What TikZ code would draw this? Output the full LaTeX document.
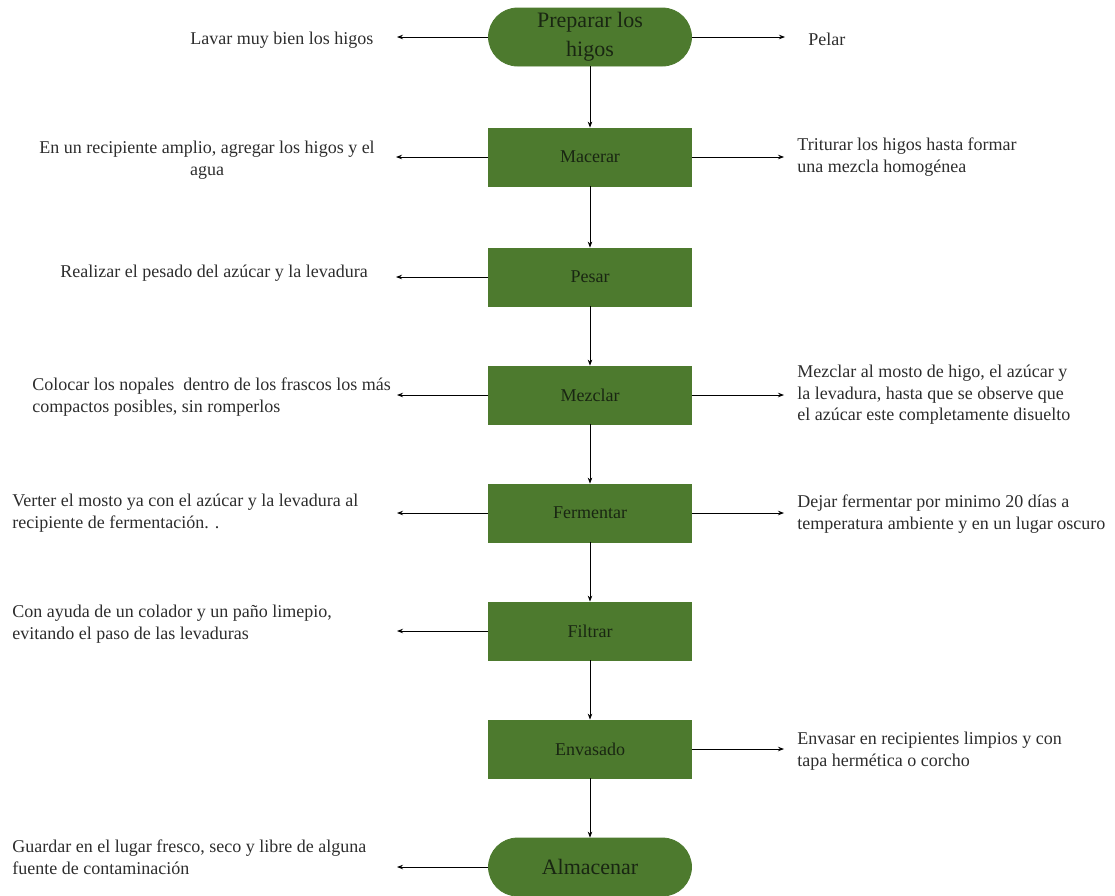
\documentclass[tikz,border=0pt]{standalone}
\usepackage{fontspec}
\setmainfont{Liberation Serif}
\newfontfamily\tnr{Liberation Serif}
\usetikzlibrary{arrows.meta, positioning}
\definecolor{verde}{RGB}{77,122,46}
\definecolor{tinta}{RGB}{25,38,18}
\definecolor{gris}{RGB}{45,45,45}

\begin{document}
\begin{tikzpicture}[x=1pt, y=-1pt, line width=0.8pt, >={Stealth[length=6pt,width=4.5pt]},
                    etapa/.style={fill=verde, draw=verde, minimum width=203pt, minimum height=58pt,
                                  text=tinta, font=\tnr\fontsize{18}{21}\selectfont},
                    extremo/.style={etapa, rounded corners=29pt, align=center, font=\tnr\fontsize{22}{29}\selectfont},
                    nota/.style={text=gris, inner sep=0pt, anchor=west, align=left, font=\tnr\fontsize{18}{21.5}\selectfont}]

  \useasboundingbox (0,0) rectangle (1115,895);

  \node[extremo] at (590,37)   (P)  {Preparar los\\higos};
  \node[etapa]   at (590,157)  (M)  {Macerar};
  \node[etapa]   at (590,277)  (Pe) {Pesar};
  \node[etapa]   at (590,395)  (Mz) {Mezclar};
  \node[etapa]   at (590,513)  (F)  {Fermentar};
  \node[etapa]   at (590,631)  (Fi) {Filtrar};
  \node[etapa]   at (590,749)  (E)  {Envasado};
  \node[extremo] at (590,867)  (A)  {Almacenar};

  % notas
  \node[nota] at (190,40)  (lavar)   {Lavar muy bien los higos};
  \node[nota] at (808,39)  (pelar)   {Pelar};
  \node[nota, anchor=center, align=center] at (207,160) (recip) {En un recipiente amplio, agregar los higos y el\\agua};
  \node[nota] at (797,157) (triturar) {Triturar los higos hasta formar\\una mezcla homogénea};
  \node[nota] at (60,273)  (pesado)  {Realizar el pesado del azúcar y la levadura};
  \node[nota] at (32,397)  (colocar) {Colocar los nopales~ dentro de los frascos los más\\compactos posibles, sin romperlos};
  \node[nota] at (797,395) (mosto)   {Mezclar al mosto de higo, el azúcar y\\la levadura, hasta que se observe que\\el azúcar este completamente disuelto};
  \node[nota] at (12,513)  (verter)  {Verter el mosto ya con el azúcar y la levadura al\\recipiente de fermentación. .};
  \node[nota] at (797,514) (dejar)   {Dejar fermentar por minimo 20 días a\\temperatura ambiente y en un lugar oscuro};
  \node[nota] at (12,624)  (colador) {Con ayuda de un colador y un paño limepio,\\evitando el paso de las levaduras};
  \node[nota] at (797,751) (envasar) {Envasar en recipientes limpios y con\\tapa hermética o corcho};
  \node[nota] at (12,857)  (guardar) {Guardar en el lugar fresco, seco y libre de alguna\\fuente de contaminación};

  \coordinate (tP1) at (397,37);   \coordinate (tP2) at (785,37);
  \coordinate (tM1) at (396,157);  \coordinate (tM2) at (784,157);
  \coordinate (tPe) at (396,277);
  \coordinate (tMz1) at (397,395); \coordinate (tMz2) at (784,395);
  \coordinate (tF1) at (397,513);  \coordinate (tF2) at (784,513);
  \coordinate (tFi) at (397,631);
  \coordinate (tE)  at (784,749);
  \coordinate (tA)  at (397,867);

  \path[->] (P)  edge (M)
                 edge (tP1)
                 edge (tP2)
            (M)  edge (Pe)
                 edge (tM1)
                 edge (tM2)
            (Pe) edge (Mz)
                 edge (tPe)
            (Mz) edge (F)
                 edge (tMz1)
                 edge (tMz2)
            (F)  edge (Fi)
                 edge (tF1)
                 edge (tF2)
            (Fi) edge (E)
                 edge (tFi)
            (E)  edge (A)
                 edge (tE)
            (A)  edge (tA);

\end{tikzpicture}
\end{document}
